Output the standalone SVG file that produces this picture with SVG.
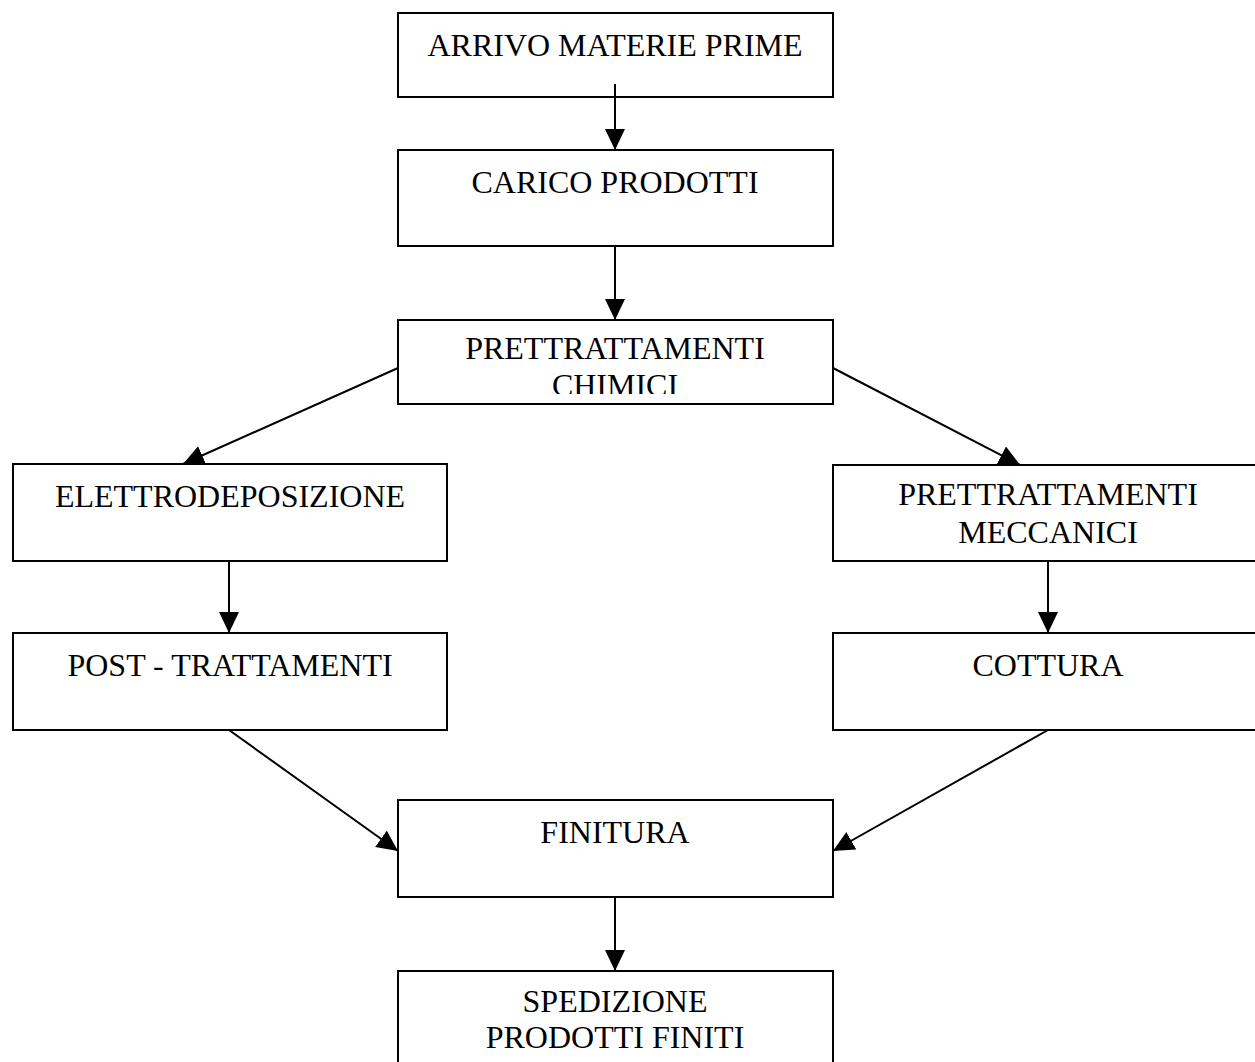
<svg xmlns="http://www.w3.org/2000/svg" width="1255" height="1062" viewBox="0 0 1255 1062">
<style>
.box{fill:#fff;stroke:#000;stroke-width:2}
.t{font-family:"Liberation Serif","Times New Roman",serif;font-size:32px;fill:#000;text-anchor:middle}
.c{stroke:#000;stroke-width:2;fill:none;marker-end:url(#ah)}
</style>
<defs>
<marker id="ah" markerUnits="userSpaceOnUse" markerWidth="24" markerHeight="22" refX="21" refY="10" orient="auto">
<path d="M0,0 L21,10 L0,20 Z" fill="#000"/>
</marker>
<clipPath id="clipChim"><rect x="398" y="320" width="435" height="74"/></clipPath>
</defs>
<rect width="1255" height="1062" fill="#fff"/>
<g id="n1"><rect class="box" x="398" y="13" width="435" height="84"/><text class="t" x="615" y="56">ARRIVO MATERIE PRIME</text></g>
<g id="n2"><rect class="box" x="398" y="150" width="435" height="96"/><text class="t" x="615" y="193">CARICO PRODOTTI</text></g>
<g id="n3"><rect class="box" x="398" y="320" width="435" height="84"/><g clip-path="url(#clipChim)"><text class="t" x="615" y="359">PRETTRATTAMENTI</text><text class="t" x="615" y="396">CHIMICI</text></g></g>
<g id="n4"><rect class="box" x="13" y="464" width="434" height="97"/><text class="t" x="230" y="507">ELETTRODEPOSIZIONE</text></g>
<g id="n5"><rect class="box" x="833" y="465" width="432" height="96"/><text class="t" x="1048" y="505">PRETTRATTAMENTI</text><text class="t" x="1048" y="543">MECCANICI</text></g>
<g id="n6"><rect class="box" x="13" y="633" width="434" height="97"/><text class="t" x="230" y="676">POST - TRATTAMENTI</text></g>
<g id="n7"><rect class="box" x="833" y="633" width="432" height="97"/><text class="t" x="1048" y="676">COTTURA</text></g>
<g id="n8"><rect class="box" x="398" y="800" width="435" height="97"/><text class="t" x="615" y="843">FINITURA</text></g>
<g id="n9"><rect class="box" x="398" y="971" width="435" height="100"/><text class="t" x="615" y="1012">SPEDIZIONE</text><text class="t" x="615" y="1048">PRODOTTI FINITI</text></g>
<g id="connectors">
<line class="c" x1="615" y1="84" x2="615" y2="150"/>
<line class="c" x1="615" y1="246" x2="615" y2="320"/>
<line class="c" x1="398" y1="368" x2="183" y2="464"/>
<line class="c" x1="833" y1="368" x2="1020" y2="465"/>
<line class="c" x1="229" y1="561" x2="229" y2="633"/>
<line class="c" x1="1048" y1="561" x2="1048" y2="633"/>
<line class="c" x1="229" y1="730" x2="398" y2="851"/>
<line class="c" x1="1048" y1="730" x2="833" y2="851"/>
<line class="c" x1="615" y1="897" x2="615" y2="971"/>
</g>
</svg>
